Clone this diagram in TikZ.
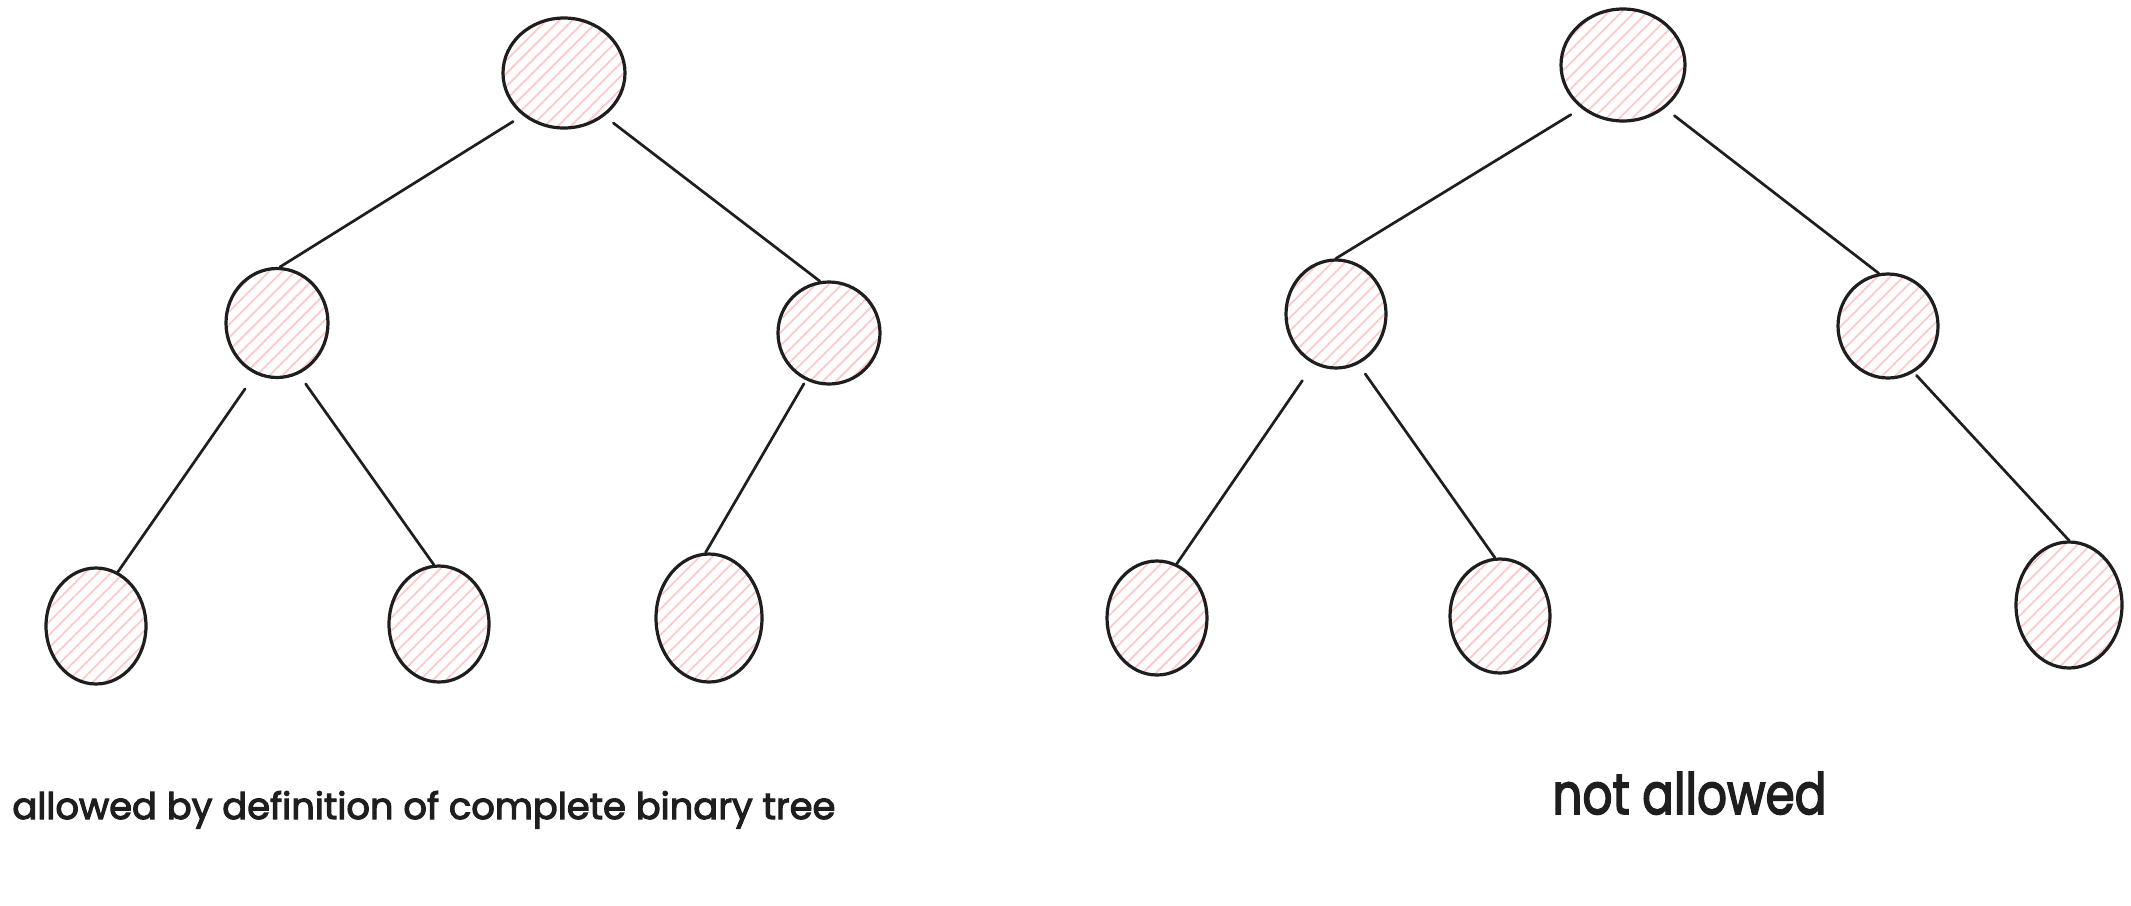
\documentclass[tikz,border=0pt]{standalone}
\usepackage{fontspec}
\setmainfont{Poppins}
\newfontfamily\capfont[FakeBold=3]{Poppins}
\usetikzlibrary{shapes.geometric,patterns.meta}
\definecolor{ink}{HTML}{1E1E1E}
\definecolor{hatch}{HTML}{FFC9C9}
\tikzset{
  treenode/.style={ellipse, draw=ink, line width=1.6pt, inner sep=0pt,
    pattern={Lines[angle=45,distance=4.6pt,line width=0.9pt]}, pattern color=hatch},
  edge/.style={draw=ink, line width=1.35pt, line cap=round},
  caption/.style={anchor=base west, inner sep=0pt, text=ink, font=\capfont}
}
\begin{document}
\begin{tikzpicture}[x=0.5pt, y=-0.5pt]
\useasboundingbox (0,0) rectangle (2131,905);

% first tree: last level filled from the left
\node[treenode, minimum width=61pt, minimum height=55pt]   (a) at (564,73)  {};
\node[treenode, minimum width=51pt, minimum height=54.5pt] (b) at (277,323) {};
\node[treenode, minimum width=51pt, minimum height=51pt]   (c) at (829,333) {};
\node[treenode, minimum width=50pt, minimum height=58pt]   (d) at (96,626)  {};
\node[treenode, minimum width=50pt, minimum height=58pt]   (e) at (439,624) {};
\node[treenode, minimum width=53pt, minimum height=64pt]   (f) at (709,618) {};

\draw[edge, shorten <=6pt] (a.-134) -- (b.87);
\draw[edge, shorten <=6pt] (a.-47)  -- (c.100);
\draw[edge, shorten <=9pt] (b.-113) -- (d.68);
\draw[edge, shorten <=6pt] (b.-67)  -- (e.95);
\draw[edge, shorten <=2pt] (c.-116) -- (f.93);

% second tree: gap in the last level
\node[treenode, minimum width=62pt, minimum height=56pt] (p) at (1623,65)  {};
\node[treenode, minimum width=50pt, minimum height=54pt] (q) at (1336,314) {};
\node[treenode, minimum width=50pt, minimum height=52pt] (r) at (1888,326) {};
\node[treenode, minimum width=50pt, minimum height=57pt] (s) at (1157,618) {};
\node[treenode, minimum width=50pt, minimum height=57pt] (t) at (1500,616) {};
\node[treenode, minimum width=53pt, minimum height=63pt] (u) at (2069,605) {};

\draw[edge, shorten <=6pt]  (p.-134) -- (q.90);
\draw[edge, shorten <=6pt]  (p.-46)  -- (r.100);
\draw[edge, shorten <=10pt] (q.-114) -- (s.70);
\draw[edge, shorten <=6pt]  (q.-66)  -- (t.95);
\draw[edge, shorten <=2pt]  (r.-61)  -- (u.90);

% captions
\node[caption] (capl) at (12,819)
  {\resizebox{411.5pt}{14pt}{allowed by definition of complete binary tree}};
\node[caption] (capr) at (1552,814)
  {\resizebox{137pt}{21pt}{not allowed}};
\end{tikzpicture}
\end{document}
